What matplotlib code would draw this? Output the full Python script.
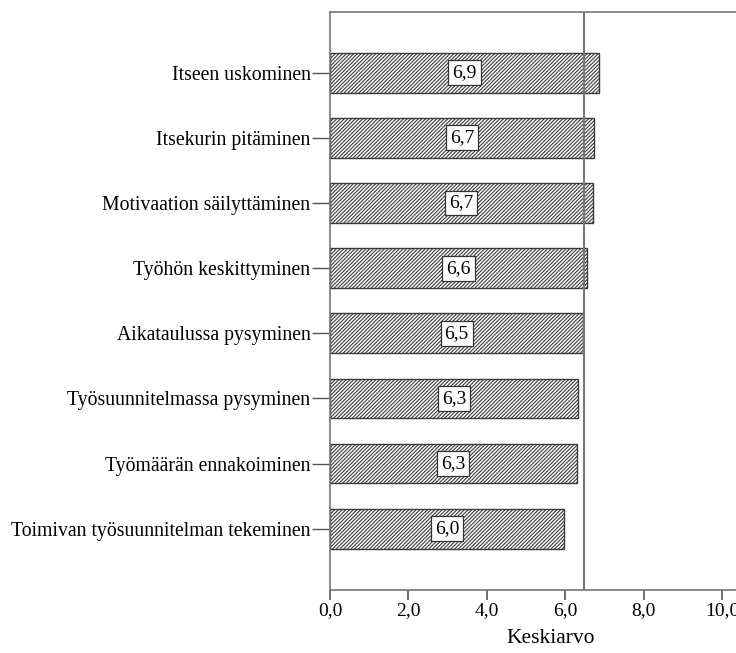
import numpy as np
import matplotlib
matplotlib.use("Agg")
from matplotlib import pyplot as plt

plt.rcParams['font.family'] = ['Liberation Serif', 'DejaVu Serif']
plt.rcParams['hatch.linewidth'] = 0.8

# keskiarvot
kohteet = ["Itseen uskominen", "Itsekurin pitäminen", "Motivaation säilyttäminen",
           "Työhön keskittyminen", "Aikataulussa pysyminen",
           "Työsuunnitelmassa pysyminen", "Työmäärän ennakoiminen",
           "Toimivan työsuunnitelman tekeminen"]
keskiarvot = [6.86, 6.74, 6.70, 6.56, 6.46, 6.33, 6.29, 5.96]
kokonaiskeskiarvo = 6.48
xtiks = [0, 2, 4, 6, 8, 10]

fig = plt.figure(figsize=(7.36, 6.53), dpi=100)
# akselin oikea reuna jää kuvan ulkopuolelle
ax = fig.add_axes([330/736, 63/653, 0.6, 578.5/653])
px_per_unit = 39.2
ax.set_xlim(0, 0.6*736/px_per_unit)
ax.set_ylim(7.94, -0.94)

y = np.arange(len(kohteet))
ax.barh(y, keskiarvot, height=0.61, color='white', edgecolor='#3a3a3a',
        hatch='/////////', linewidth=1.0)

for yi, v in zip(y, keskiarvot):
    ax.text(v/2, yi, f"{v:.1f}".replace('.', ','), ha='center', va='center',
            fontsize=14,
            bbox=dict(boxstyle='square,pad=0.2', fc='white', ec='#333333', lw=0.9))

ax.axvline(kokonaiskeskiarvo, color='#777777', lw=1.5)

ax.set_yticks(y)
ax.set_yticklabels(kohteet, fontsize=14.2)
ax.set_xticks(xtiks)
ax.set_xticklabels([f"{t:.1f}".replace('.', ',') for t in xtiks], fontsize=14)
ax.tick_params(axis='x', direction='out', length=7, width=1.2, color='#555555', pad=2)
ax.tick_params(axis='y', direction='out', length=13, width=1.0, color='#555555', pad=1)
ax.set_xlabel("Keskiarvo", fontsize=15.5, labelpad=7)

for s in ax.spines.values():
    s.set_color('#777777')
    s.set_linewidth(1.2)

fig.savefig("out.png", dpi=100)
